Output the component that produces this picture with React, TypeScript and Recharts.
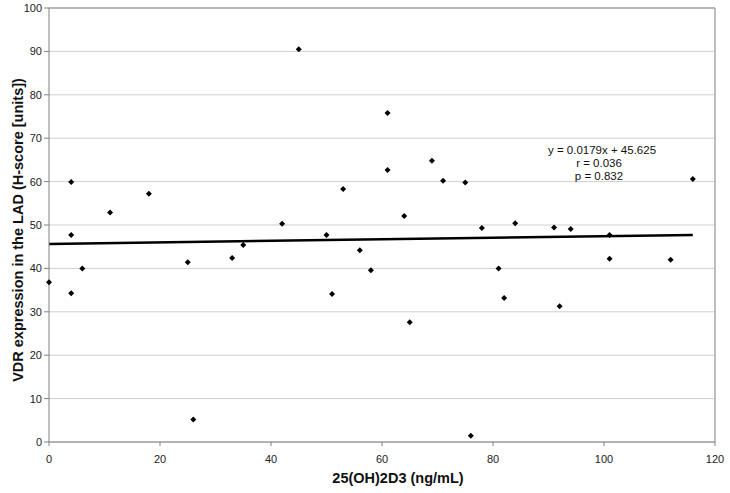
import React from 'react';
import {
  ScatterChart,
  Scatter,
  XAxis,
  YAxis,
  CartesianGrid,
  ReferenceLine,
  Label,
} from 'recharts';

// serum 25(OH)2D3 vs VDR H-score
const vitD = [
  0, 4, 4, 4, 6, 11, 18, 25, 26, 33, 35, 42, 45, 50, 51, 53, 56, 58, 61, 61,
  64, 65, 69, 71, 75, 76, 78, 81, 82, 84, 91, 92, 94, 101, 101, 112, 116,
];
const vdrScore = [
  36.8, 59.9, 47.7, 34.3, 40.0, 52.9, 57.2, 41.4, 5.2, 42.4, 45.4, 50.3, 90.5,
  47.7, 34.1, 58.3, 44.2, 39.6, 75.8, 62.7, 52.1, 27.6, 64.8, 60.2, 59.8, 1.45,
  49.3, 40.0, 33.2, 50.4, 49.4, 31.3, 49.1, 47.7, 42.2, 42.0, 60.6,
];
const xTicks = [0, 20, 40, 60, 80, 100, 120];
const yTicks = [0, 10, 20, 30, 40, 50, 60, 70, 80, 90, 100];

// regression shown on the figure
const slope = 0.0179;
const intercept = 45.625;
const statLines = ['y = 0.0179x + 45.625', 'r = 0.036', 'p = 0.832'];

const points = vitD.map((x, i) => ({ x, y: vdrScore[i] }));
const fitStart = Math.min(...vitD);
const fitEnd = Math.max(...vitD);

const FONT = 'Arial, "Liberation Sans", Helvetica, sans-serif';

const Diamond = (props: any) => {
  const { cx, cy } = props;
  const r = 3;
  return (
    <polygon
      points={`${cx},${cy - r} ${cx + r},${cy} ${cx},${cy + r} ${cx - r},${cy}`}
      fill="#000"
    />
  );
};

export default function App() {
  return (
    <div style={{ position: 'absolute', left: 0, top: 0, background: '#fff' }}>
      <ScatterChart
        width={730}
        height={493}
        margin={{ top: 8, right: 15, bottom: 21, left: 0 }}
      >
        <CartesianGrid horizontal vertical={false} stroke="#cfcfcf" />
        <XAxis
          type="number"
          dataKey="x"
          domain={[0, 120]}
          ticks={xTicks}
          height={30}
          tickSize={4}
          tickMargin={9}
          stroke="#808080"
          tick={{ fill: '#222', fontSize: 11, fontFamily: FONT }}
        >
          <Label
            content={() => (
              <text
                x={398}
                y={483}
                textAnchor="middle"
                fontFamily={FONT}
                fontWeight="bold"
                fontSize={14.5}
                fill="#111"
              >
                25(OH)2D3 (ng/mL)
              </text>
            )}
          />
        </XAxis>
        <YAxis
          type="number"
          dataKey="y"
          domain={[0, 100]}
          ticks={yTicks}
          width={49}
          tickSize={5}
          tickMargin={2}
          stroke="#808080"
          tick={{ fill: '#222', fontSize: 11, fontFamily: FONT }}
        >
          <Label
            content={() => (
              <text
                x={18}
                y={230}
                transform="rotate(-90 18 230)"
                textAnchor="middle"
                dominantBaseline="central"
                fontFamily={FONT}
                fontWeight="bold"
                fontSize={14.5}
                fill="#111"
              >
                VDR expression in the LAD (H-score [units])
              </text>
            )}
          />
        </YAxis>
        {/* plot frame, top and right */}
        <ReferenceLine y={100} stroke="#b8b8b8" strokeWidth={2} />
        <ReferenceLine x={120} stroke="#a8a8a8" strokeWidth={1.5} />
        <ReferenceLine
          segment={[
            { x: fitStart, y: intercept + slope * fitStart },
            { x: fitEnd, y: intercept + slope * fitEnd },
          ]}
          stroke="#000"
          strokeWidth={2.5}
        >
          <Label
            content={() => (
              <g fontFamily={FONT} fontSize={11.5} fill="#111" textAnchor="middle">
                <text x={602} y={154}>{statLines[0]}</text>
                <text x={599} y={167}>{statLines[1]}</text>
                <text x={599} y={180}>{statLines[2]}</text>
              </g>
            )}
          />
        </ReferenceLine>
        <Scatter data={points} shape={<Diamond />} isAnimationActive={false} />
      </ScatterChart>
    </div>
  );
}
